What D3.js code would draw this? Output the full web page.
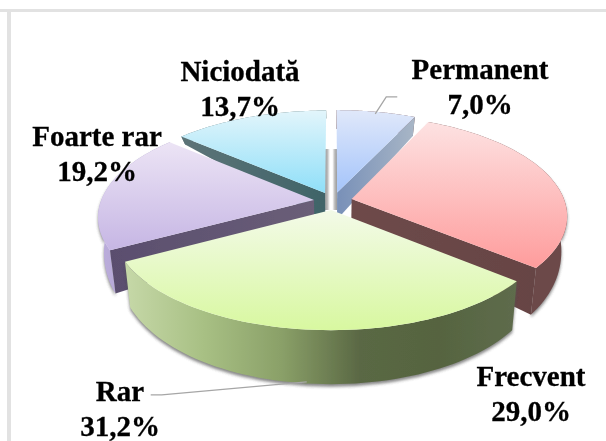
<!DOCTYPE html>
<html><head><meta charset="utf-8">
<script src="https://cdn.jsdelivr.net/npm/d3@7"></script>
<style>html,body{margin:0;padding:0;background:#fff;overflow:hidden}svg{display:block}</style>
</head><body><div id="c"></div>
<script>
const categories = ["Permanent","Frecvent","Rar","Foarte rar","Niciodată"];
const values = [7.0,29.0,31.2,19.2,13.7];
const valueLabels = ["7,0%","29,0%","31,2%","19,2%","13,7%"];
const topColors = [["#e0e8fa","#a4c4fa"],["#fde2e2","#fe9c9c"],["#f3fae8","#d8f8a0"],["#ece4f5","#c6b6e4"],["#e2f5fb","#8fdff8"]];
const wallColors = [["#6c4848","#6c4848"],["#6c4848","#6c4848"],["#c6d8a8","#a8c084","#8aa068","#5a6844","#566440","#5e6c4c"],["#bcaedc","#a898c8"],["#5d7478","#3f6468"]];
const faceColors = [["#7890b8","#a8b6c6"],["#6e4a4a","#664444"],["#5e6c4c","#5e6c4c"],["#6a5e78","#5a4e6e"],["#3f6468","#5d7478"]];
const drawOrder = [4,0,1,3,2];
const labelPos = [[480,79],[531,386],[120,401],[97,146],[240,81]];

const W=606,H=441,cx=333,cy=201,Rx=213,Ry=98,q=.159,explode=.09,fs=29,lineGap=35;
const svg=d3.select("#c").append("svg").attr("width",W).attr("height",H);
const defs=svg.append("defs");

svg.append("rect").attr("x",0).attr("y",9).attr("width",W).attr("height",3).attr("fill","#e2e2e2");
svg.append("rect").attr("x",7).attr("y",12).attr("width",4).attr("height",H).attr("fill","#e2e2e2");

const slices=d3.pie().sort(null).value(d=>d)(values);
const sx=d3.scaleLinear().domain([0,1]).range([cx,cx+Rx]);
const sy=d3.scaleLinear().domain([0,1]).range([cy,cy-Ry]);

function point(sl,a,r){
  const m=(sl.startAngle+sl.endAngle)/2;
  return {u:r*Math.sin(a)+explode*Math.sin(m), v:r*Math.cos(a)+explode*Math.cos(m)};
}
function topPt(p){const s=1/(1+q*p.v);return [sx(p.u*s),sy(p.v*s)];}
function depth(p){
  const d=Math.max(8,30-34*p.v-11*p.v*p.v);
  return p.u>0?Math.max(d,19):d;
}
function botPt(p){const t=topPt(p);return [cx+(t[0]-cx)*.975,t[1]+depth(p)];}
function arcPts(sl){return d3.range(0,61).map(i=>point(sl,sl.startAngle+(sl.endAngle-sl.startAngle)*i/60,1));}
const line=d3.line();

function grad(id,colors,x1,y1,x2,y2){
  const g=defs.append("linearGradient").attr("id",id).attr("gradientUnits","userSpaceOnUse")
    .attr("x1",x1).attr("y1",y1).attr("x2",x2).attr("y2",y2);
  colors.forEach((c,i)=>g.append("stop").attr("offset",colors.length>1?i/(colors.length-1):0).attr("stop-color",c));
  return `url(#${id})`;
}
const soft=defs.append("filter").attr("id","soft").attr("x","-10%").attr("y","-10%").attr("width","120%").attr("height","130%");
soft.append("feGaussianBlur").attr("stdDeviation",.45);
const shadow=defs.append("filter").attr("id","shadow").attr("x","-15%").attr("y","-15%").attr("width","130%").attr("height","140%");
shadow.append("feGaussianBlur").attr("stdDeviation",1.6);

const pie=svg.append("g").attr("filter","url(#soft)");

// centre gap: the two radial faces seen edge on
const apexL=topPt(point(slices[4],0,0)), apexR=topPt(point(slices[0],0,0));
pie.append("rect").attr("x",apexL[0]).attr("y",cy-52).attr("width",apexR[0]-apexL[0]).attr("height",61)
  .attr("fill",grad("gap",["#999","#bbb","#fff","#fff","#bbb","#999"],apexL[0],0,apexR[0],0));

drawOrder.forEach(i=>{
  const sl=slices[i], pts=arcPts(sl), apex=point(sl,0,0), g=pie.append("g");
  const tops=pts.map(topPt), bots=pts.map(botPt);
  const xs=tops.map(d=>d[0]), ys=tops.map(d=>d[1]);
  const ring=[...tops,...bots.slice().reverse()];
  // ground shadow under the outer wall
  if(i!==0&&i!==4) g.append("path").attr("d",line(ring)+"Z").attr("fill","#555").attr("opacity",.7)
    .attr("transform","translate(0,2.5)").attr("filter","url(#shadow)");
  g.append("path").attr("d",line(ring)+"Z")
    .attr("fill",grad("wall"+i,wallColors[i],d3.min(xs),0,d3.max(xs),0));
  // radial faces, only when turned towards the viewer
  [[pts[0],sl.startAngle-Math.PI/2],[pts[pts.length-1],sl.endAngle+Math.PI/2]].forEach(([p,n],k)=>{
    if(Math.cos(n)>=-.01) return;
    const poly=[topPt(apex),topPt(p),botPt(p),botPt(apex)];
    g.append("path").attr("d",line(poly)+"Z")
      .attr("fill",grad(`face${i}_${k}`,faceColors[i],topPt(apex)[0],0,topPt(p)[0],0));
  });
  g.append("path").attr("d",line([topPt(apex),...tops])+"Z")
    .attr("fill",grad("top"+i,topColors[i],0,d3.min([...ys,topPt(apex)[1]]),0,d3.max([...ys,topPt(apex)[1]])));
});

// leader lines
const permAnchor=topPt(point(slices[0],(slices[0].startAngle+slices[0].endAngle)/2,.97));
svg.append("path").attr("fill","none").attr("stroke","#a6a6a6").attr("stroke-width",1.3)
  .attr("d",line([permAnchor,[permAnchor[0]+11,permAnchor[1]-17],[permAnchor[0]+22,permAnchor[1]-17]]));
const rarAnchor=botPt(point(slices[2],(slices[2].startAngle+slices[2].endAngle)/2,.99));
svg.append("path").attr("fill","none").attr("stroke","#a6a6a6").attr("stroke-width",1.3)
  .attr("d",line([[rarAnchor[0]-156,rarAnchor[1]+13],[rarAnchor[0]-145,rarAnchor[1]+13],rarAnchor]));

// labels
categories.forEach((c,i)=>{
  const t=svg.append("text").attr("text-anchor","middle")
    .attr("font-family","'Liberation Serif',serif").attr("font-weight","bold").attr("font-size",fs)
    .attr("fill","#000").attr("stroke","#000").attr("stroke-width",.3);
  t.append("tspan").attr("x",labelPos[i][0]).attr("y",labelPos[i][1]).text(c);
  t.append("tspan").attr("x",labelPos[i][0]).attr("y",labelPos[i][1]+lineGap).text(valueLabels[i]);
});
</script></body></html>
